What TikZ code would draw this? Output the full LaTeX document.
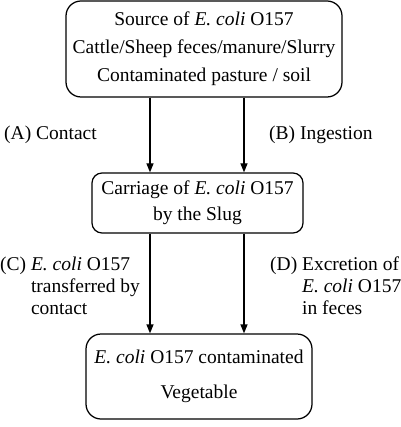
\documentclass[tikz,border=0pt]{standalone}
\usepackage{fontspec}
\setmainfont{Liberation Serif}
\usetikzlibrary{arrows.meta}
\begin{document}
\begin{tikzpicture}[x=1pt,y=-1pt,
  box/.style={draw, line width=1.25pt, align=center, inner sep=0pt},
  flow/.style={line width=1.25pt, -{Triangle[length=9pt,width=7pt]}},
  lbl/.style={inner sep=0pt, anchor=base west}]
\useasboundingbox (0,0) rectangle (400,427);
\node[box, rounded corners=15pt, minimum width=276pt, minimum height=96pt,
      font=\fontsize{19.5}{28}\selectfont] (src) at (204,49)
  {Source of \textit{E. coli} O157\\Cattle/Sheep feces/manure/Slurry\\Contaminated pasture / soil};
\node[box, rounded corners=10pt, minimum width=211pt, minimum height=60pt,
      font=\fontsize{19.5}{26}\selectfont] (slug) at (197.5,203)
  {Carriage of \textit{E. coli} O157\\by the Slug};
\node[box, rounded corners=15pt, minimum width=226pt, minimum height=85pt,
      font=\fontsize{19.5}{35}\selectfont] (veg) at (199,376.5)
  {\textit{E. coli} O157 contaminated\\Vegetable};
\coordinate (xl) at (150,0);
\coordinate (xr) at (244,0);
\draw[flow] (src.south -| xl) -- (slug.north -| xl);
\draw[flow] (src.south -| xr) -- (slug.north -| xr);
\draw[flow] (slug.south -| xl) -- (veg.north -| xl);
\draw[flow] (slug.south -| xr) -- (veg.north -| xr);
\node[lbl, font=\fontsize{19.5}{22}\selectfont] (la) at (4,140) {(A) Contact};
\node[lbl, font=\fontsize{19.5}{22}\selectfont] (lb) at (269,140) {(B) Ingestion};
\node[lbl, font=\fontsize{19.5}{22}\selectfont] (lc) at (0,270)
  {\begin{tabular}[t]{@{}l@{ }l@{}}(C) & \textit{E. coli} O157\\ & transferred by\\ & contact\end{tabular}};
\node[lbl, font=\fontsize{19.5}{22}\selectfont] (ld) at (270,270)
  {\begin{tabular}[t]{@{}l@{ }l@{}}(D) & Excretion of\\ & \textit{E. coli} O157\\ & in feces\end{tabular}};
\end{tikzpicture}
\end{document}
